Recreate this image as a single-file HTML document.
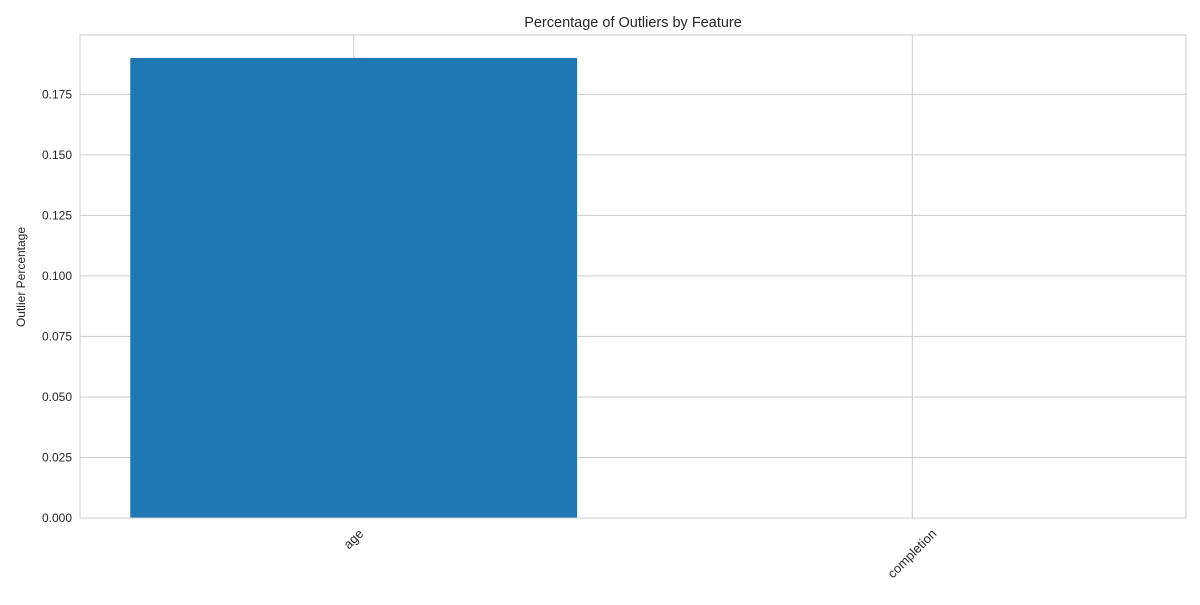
<!DOCTYPE html>
<html><head><meta charset="utf-8"><style>
body{margin:0;background:#fff;font-family:"Liberation Sans","DejaVu Sans",sans-serif;}
</style></head><body>
<svg width="1200" height="600" id="svg" xmlns="http://www.w3.org/2000/svg">
<rect width="1200" height="600" fill="#fff"/>
<text x="633" y="27" text-anchor="middle" font-size="14.5" fill="#262626">Percentage of Outliers by Feature</text>
<text transform="translate(25,277) rotate(-90)" text-anchor="middle" font-size="12" fill="#262626">Outlier Percentage</text>
<g id="grid"></g><g id="bars"></g><g id="ticks"></g>
<rect x="80" y="35" width="1106" height="483" fill="none" stroke="#cccccc" stroke-width="1"/>
</svg>
<script>
const categories=["age","completion"];
const values=[0.19,0.0];
const yTicks=[0,0.025,0.05,0.075,0.1,0.125,0.15,0.175];
const yTickLabels=["0.000","0.025","0.050","0.075","0.100","0.125","0.150","0.175"];
const NS="http://www.w3.org/2000/svg";
const L=80,R=1186,T=35,B=518;
const xmin=-0.49,xmax=categories.length-1+0.49;
const ymax=Math.max(...values)*1.05||0.2;
const xs=v=>L+(v-xmin)/(xmax-xmin)*(R-L);
const ys=v=>B-v/ymax*(B-T);
function mk(t,a,p){const e=document.createElementNS(NS,t);for(const k in a)e.setAttribute(k,a[k]);p.appendChild(e);return e;}
const grid=document.getElementById('grid'),bars=document.getElementById('bars'),ticks=document.getElementById('ticks');
yTicks.forEach((v,i)=>{
 const y=ys(v);
 const g=mk('line',{x1:L,x2:R,y1:y,y2:y,stroke:'#cccccc','stroke-width':1},grid);
 
 
 const t=mk('text',{x:L-8,y:y+4,'text-anchor':'end','font-size':12,fill:'#262626'},ticks);
 t.textContent=yTickLabels[i];
 
 
});
categories.forEach((c,i)=>{
 const x=xs(i);
 const g=mk('line',{x1:x,x2:x,y1:T,y2:B,stroke:'#cccccc','stroke-width':1},grid);
 
 
 const w=xs(0.4)-xs(-0.4);
 const b=mk('rect',{x:x-w/2,y:ys(values[i]),width:w,height:B-ys(values[i]),fill:'#1f77b4'},bars);
 
 
 const t=mk('text',{'text-anchor':'middle','font-size':13,fill:'#262626'},ticks);
 t.textContent=c;
 const len=t.getComputedTextLength();
 const h=10;
 const cy=B+10+(len+h)/(2*Math.SQRT2);
 t.setAttribute('transform',`translate(${x},${cy}) rotate(-45) translate(0,4)`);
 
 
});
</script>
</body></html>
